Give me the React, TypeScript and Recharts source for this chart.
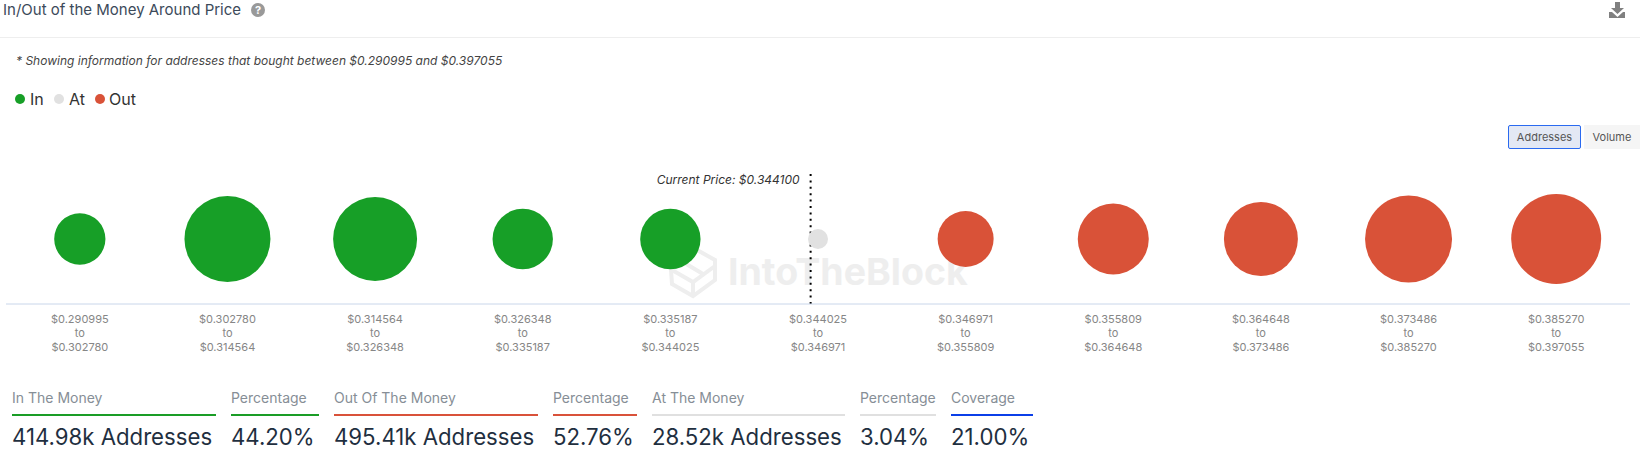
import { ScatterChart, Scatter, XAxis, YAxis, ZAxis, ReferenceLine, Legend } from 'recharts';

const rangeLows = ['$0.290995', '$0.302780', '$0.314564', '$0.326348', '$0.335187', '$0.344025', '$0.346971', '$0.355809', '$0.364648', '$0.373486', '$0.385270'];
const rangeHighs = ['$0.302780', '$0.314564', '$0.326348', '$0.335187', '$0.344025', '$0.346971', '$0.355809', '$0.364648', '$0.373486', '$0.385270', '$0.397055'];

// thousands of addresses
const inValues = [57, 118, 113.6, 70, 70];
const atValues = [28.52];
const outValues = [63.5, 87.9, 93.4, 120.2, 127];

const currentPriceBin = 4.95;

const stats = [
  { label: 'In The Money', value: '414.98k Addresses', left: 12, right: 216, color: '#1a9d26' },
  { label: 'Percentage', value: '44.20%', left: 231, right: 319, color: '#1a9d26' },
  { label: 'Out Of The Money', value: '495.41k Addresses', left: 334, right: 538, color: '#d9523a' },
  { label: 'Percentage', value: '52.76%', left: 553, right: 637, color: '#d9523a' },
  { label: 'At The Money', value: '28.52k Addresses', left: 652, right: 845, color: '#e0e0e0' },
  { label: 'Percentage', value: '3.04%', left: 860, right: 936, color: '#e0e0e0' },
  { label: 'Coverage', value: '21.00%', left: 951, right: 1033, color: '#0b3fe8' },
];

const GREEN = '#179f27';
const GREY = '#e1e1e1';
const RED = '#d95238';
const FONT = 'Inter, sans-serif';

const inData = inValues.map((addresses, i) => ({ bin: i, level: 1, addresses }));
const atData = atValues.map((addresses, i) => ({ bin: inValues.length + i, level: 1, addresses }));
const outData = outValues.map((addresses, i) => ({ bin: inValues.length + atValues.length + i, level: 1, addresses }));
const binTicks = rangeLows.map((_, i) => i);

function RangeTick({ x, y, payload }: any) {
  const i = payload.value;
  return (
    <text x={x} textAnchor="middle" fontSize={11} fontFamily={FONT} fill="#868686">
      <tspan x={x} y={y + 11}>{rangeLows[i]}</tspan>
      <tspan x={x} y={y + 25}>to</tspan>
      <tspan x={x} y={y + 39}>{rangeHighs[i]}</tspan>
    </text>
  );
}

function LegendRow() {
  const items = [
    { name: 'In', color: GREEN, dot: 20, text: 30 },
    { name: 'At', color: GREY, dot: 59, text: 69 },
    { name: 'Out', color: RED, dot: 100, text: 109 },
  ];
  return (
    <div style={{ position: 'relative', width: 200, height: 24 }}>
      {items.map((it) => (
        <span key={it.name}>
          <span style={{ position: 'absolute', left: it.dot - 5, top: 7, width: 10, height: 10, borderRadius: 5, background: it.color }} />
          <span style={{ position: 'absolute', left: it.text, top: 2, fontSize: 16, lineHeight: '20px', color: '#333', fontFamily: FONT }}>{it.name}</span>
        </span>
      ))}
    </div>
  );
}

function Watermark() {
  return (
    <div style={{ position: 'absolute', left: 669, top: 246 }}>
      <svg width={50} height={54} style={{ position: 'absolute', left: 0, top: 0 }}>
        <g fill="none" stroke="#eeeeee" strokeWidth={4}>
          <path d="M2 24 L28 4 L46 14 L46 34 L24 50 L3 38 Z" />
          <path d="M3 24 L24 36 L46 20 M24 36 L24 50 M14 16 L34 28" />
        </g>
      </svg>
      <div style={{ position: 'absolute', left: 59, top: 2, fontSize: 37.5, lineHeight: '48px', fontWeight: 700, color: '#eeeeee', fontFamily: FONT, whiteSpace: 'nowrap' }}>
        IntoTheBlock
      </div>
    </div>
  );
}

export default function App() {
  return (
    <div style={{ position: 'absolute', left: 0, top: 0, width: 1640, height: 459, overflow: 'hidden', background: '#fff', fontFamily: FONT }}>
      <div style={{ position: 'absolute', left: 3, top: 0, fontSize: 15, lineHeight: '20px', color: '#3c4a5a' }}>In/Out of the Money Around Price</div>
      <div style={{ position: 'absolute', left: 251, top: 3, width: 14, height: 14, borderRadius: 7, background: '#999', color: '#fff', fontSize: 11, lineHeight: '14px', fontWeight: 700, textAlign: 'center' }}>?</div>
      <svg width={18} height={18} style={{ position: 'absolute', left: 1609, top: 2 }}>
        <path d="M6 0 H11 V6 H15 L8.5 12 L2 6 H6 Z M0 10 H3 L8.5 15 L14 10 H16 V16 H0 Z" fill="#808080" />
      </svg>
      <div style={{ position: 'absolute', left: 0, top: 37, width: 1640, height: 1, background: '#eeeeee' }} />
      <div style={{ position: 'absolute', left: 16, top: 52, fontSize: 12, lineHeight: '18px', fontStyle: 'italic', color: '#444' }}>
        * Showing information for addresses that bought between $0.290995 and $0.397055
      </div>

      <div style={{ position: 'absolute', left: 1508, top: 125, width: 71, height: 22, border: '1px solid #2a6af0', borderRadius: 2, background: '#e3e8f4', color: '#555', fontSize: 11, lineHeight: '22px', textAlign: 'center' }}>Addresses</div>
      <div style={{ position: 'absolute', left: 1584, top: 125, width: 56, height: 24, background: '#f5f5f5', color: '#555', fontSize: 11, lineHeight: '24px', textAlign: 'center' }}>Volume</div>

      <Watermark />

      <div style={{ position: 'absolute', left: 0, top: 0 }}>
        <ScatterChart width={1640} height={459} margin={{ top: 174, right: 10, bottom: 95, left: 6 }}>
          <XAxis
            type="number"
            dataKey="bin"
            domain={[-0.5, 10.5]}
            ticks={binTicks}
            interval={0}
            height={60}
            tick={<RangeTick />}
            tickLine={false}
            axisLine={{ stroke: '#c9d6ea' }}
          />
          <YAxis type="number" dataKey="level" domain={[0, 2]} hide />
          <ZAxis type="number" dataKey="addresses" domain={[28.52, 127]} range={[314, 6362]} />
          <ReferenceLine
            x={currentPriceBin}
            stroke="#000"
            strokeWidth={2}
            strokeDasharray="2 4.4"
            label={{ value: 'Current Price: $0.344100', position: 'insideTopRight', dx: -6, dy: -4, fontSize: 12, fontStyle: 'italic', fill: '#333', fontFamily: FONT }}
          />
          <Legend
            layout="horizontal"
            verticalAlign="middle"
            align="center"
            content={<LegendRow />}
            wrapperStyle={{ left: 0, top: 87, width: 200 }}
          />
          <Scatter name="In" data={inData} fill={GREEN} isAnimationActive={false} />
          <Scatter name="At" data={atData} fill={GREY} isAnimationActive={false} />
          <Scatter name="Out" data={outData} fill={RED} isAnimationActive={false} />
        </ScatterChart>
      </div>

      {stats.map((s) => (
        <div key={s.left} style={{ position: 'absolute', left: s.left, top: 388, width: s.right - s.left }}>
          <div style={{ fontSize: 14, lineHeight: '20px', color: '#868e96', whiteSpace: 'nowrap' }}>{s.label}</div>
          <div style={{ position: 'absolute', top: 26, left: 0, right: 0, height: 2, background: s.color }} />
          <div style={{ position: 'absolute', top: 34, left: 0, fontSize: 22.2, lineHeight: '30px', color: '#1f2f3f', whiteSpace: 'nowrap' }}>{s.value}</div>
        </div>
      ))}
    </div>
  );
}
